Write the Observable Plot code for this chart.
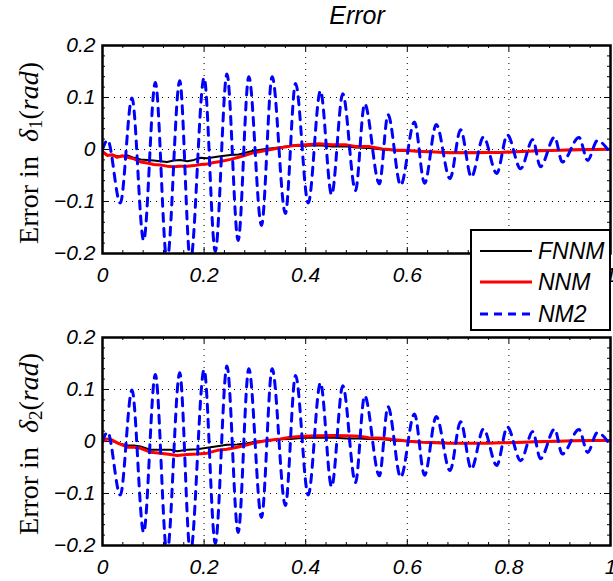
<!DOCTYPE html>
<html>
<head>
<meta charset="utf-8">
<script src="https://cdn.jsdelivr.net/npm/d3@7"></script>
<script src="https://cdn.jsdelivr.net/npm/@observablehq/plot@0.6"></script>
<style>
  html, body { margin: 0; padding: 0; background: #fff; }
  #chart { position: relative; width: 613px; height: 581px; overflow: hidden; background: #fff; }
  #chart > svg { position: absolute; left: 0; background: transparent; }
  .title { position: absolute; top: 3px; left: 357px; transform: translateX(-50%); font: italic 25px "Liberation Sans", Arial, sans-serif; line-height: 25px; white-space: nowrap; }
  .ylab { position: absolute; transform: translate(-50%, -50%) rotate(-90deg); font-family: "Liberation Serif", "Times New Roman", serif; font-size: 28px; white-space: nowrap; line-height: 1; }
  .ylab i { font-style: italic; }
  .ylab sub { font-size: 0.68em; vertical-align: -0.25em; font-style: normal; }
  .legend { position: absolute; left: 470px; top: 229px; width: 137px; height: 98px; border: 2px solid #000; background: #fff; z-index: 10; }
  .legend .row { position: absolute; left: 0; height: 30px; display: flex; align-items: center; font: italic 23px "Liberation Sans", Arial, sans-serif; white-space: nowrap; }
  .legend .row svg { display: block; margin-left: 8px; margin-right: 6px; flex: none; }
</style>
</head>
<body>
<div id="chart"></div>
<script>
// ---- axis definitions ----
const xTicks = [0, 0.2, 0.4, 0.6, 0.8, 1];
const xTickLabels = ["0", "0.2", "0.4", "0.6", "0.8", "1"];
const yTicks = [-0.2, -0.1, 0, 0.1, 0.2];
const yTickLabels = ["\u22120.2", "\u22120.1", "0", "0.1", "0.2"];
const xMinor = [0.04, 0.08, 0.12, 0.16, 0.24, 0.28, 0.32, 0.36, 0.44, 0.48, 0.52, 0.56, 0.64, 0.68, 0.72, 0.76, 0.84, 0.88, 0.92, 0.96];
const yMinor = [-0.18, -0.16, -0.14, -0.12, -0.08, -0.06, -0.04, -0.02, 0.02, 0.04, 0.06, 0.08, 0.12, 0.14, 0.16, 0.18];

const seriesNames = ["FNNM", "NNM", "NM2"];
const seriesColors = ["#000000", "#ff0000", "#0000ff"];

// ---- NM2 (blue dashed) : turning points, same in both panels ----
const nm2 = [
  [0, 0.0], [0.010, 0.018], [0.035, -0.103], [0.058, 0.099], [0.081, -0.175], [0.104, 0.129],
  [0.127, -0.215], [0.152, 0.132], [0.173, -0.215], [0.200, 0.138], [0.222, -0.196], [0.245, 0.145],
  [0.267, -0.175], [0.288, 0.140], [0.313, -0.146], [0.334, 0.140], [0.360, -0.123], [0.380, 0.127],
  [0.405, -0.103], [0.429, 0.113], [0.451, -0.087], [0.473, 0.107], [0.498, -0.079], [0.516, 0.088],
  [0.545, -0.066], [0.562, 0.067], [0.587, -0.069], [0.614, 0.053], [0.634, -0.065], [0.657, 0.048],
  [0.684, -0.056], [0.705, 0.038], [0.726, -0.053], [0.750, 0.024], [0.776, -0.046], [0.797, 0.028],
  [0.823, -0.037], [0.847, 0.019], [0.862, -0.033], [0.890, 0.024], [0.905, -0.024], [0.938, 0.023],
  [0.955, -0.021], [0.974, 0.017], [1.0, -0.008]
];

// ---- panel 1 (delta_1) ----
const fnnm1 = [
  [0, -0.004], [0.009, -0.010], [0.022, -0.0115], [0.035, -0.0135], [0.049, -0.0115], [0.062, -0.016],
  [0.075, -0.019], [0.088, -0.020], [0.101, -0.021], [0.114, -0.0225], [0.127, -0.024], [0.140, -0.021],
  [0.153, -0.020], [0.167, -0.0225], [0.180, -0.020], [0.193, -0.016], [0.206, -0.017], [0.219, -0.015],
  [0.232, -0.013], [0.252, -0.0105], [0.268, -0.0096], [0.295, -0.003], [0.321, 0.001], [0.347, 0.004],
  [0.373, 0.007], [0.400, 0.007], [0.426, 0.008], [0.452, 0.006], [0.478, 0.006], [0.498, 0.004],
  [0.524, 0.003], [0.551, 0.0], [0.577, -0.002], [0.603, -0.003], [0.629, -0.004], [0.656, -0.005],
  [0.682, -0.006], [0.708, -0.006], [0.734, -0.006], [0.760, -0.005], [0.783, -0.005], [0.823, -0.004],
  [0.862, -0.002], [0.902, -0.001], [0.941, 0.0], [1.0, 0.001]
];
const nnm1 = [
  [0, -0.004], [0.009, -0.0115], [0.019, -0.010], [0.029, -0.015], [0.039, -0.012], [0.049, -0.015],
  [0.062, -0.018], [0.075, -0.024], [0.088, -0.026], [0.101, -0.029], [0.114, -0.030], [0.127, -0.032],
  [0.140, -0.033], [0.153, -0.032], [0.167, -0.032], [0.180, -0.031], [0.193, -0.029], [0.206, -0.028],
  [0.219, -0.025], [0.232, -0.023], [0.252, -0.019], [0.268, -0.015], [0.295, -0.007], [0.321, -0.002],
  [0.347, 0.003], [0.373, 0.007], [0.400, 0.009], [0.426, 0.011], [0.452, 0.009], [0.478, 0.009],
  [0.498, 0.006], [0.524, 0.006], [0.551, 0.001], [0.577, -0.001], [0.603, -0.002], [0.629, -0.004],
  [0.656, -0.005], [0.682, -0.0064], [0.708, -0.0064], [0.734, -0.0064], [0.754, -0.006], [0.783, -0.006],
  [0.823, -0.004], [0.862, -0.0026], [0.902, -0.0013], [0.941, -0.0006], [1.0, 0.0006]
];

// ---- panel 2 (delta_2) ----
const fnnm2 = [
  [0, 0.002], [0.009, 0.005], [0.022, 0.0], [0.035, -0.0045], [0.049, -0.0077], [0.062, -0.0077],
  [0.075, -0.0096], [0.094, -0.016], [0.114, -0.016], [0.134, -0.016], [0.147, -0.0186], [0.167, -0.016],
  [0.186, -0.015], [0.206, -0.0122], [0.226, -0.009], [0.245, -0.0064], [0.265, -0.0058], [0.285, -0.0032],
  [0.305, 0.0], [0.324, 0.002], [0.350, 0.0045], [0.370, 0.005], [0.396, 0.0071], [0.423, 0.0071],
  [0.455, 0.0071], [0.482, 0.0058], [0.505, 0.0058], [0.524, 0.005], [0.551, 0.0045], [0.577, 0.002],
  [0.603, 0.0006], [0.629, -0.001], [0.656, -0.002], [0.682, -0.003], [0.708, -0.003], [0.734, -0.003],
  [0.760, -0.003], [0.787, -0.0026], [0.813, -0.002], [0.852, -0.0006], [0.892, 0.0006], [0.931, 0.0013],
  [0.970, 0.0019], [1.0, 0.0019]
];
const nnm2 = [
  [0, 0.0], [0.009, 0.005], [0.019, 0.003], [0.029, -0.0026], [0.049, -0.011], [0.062, -0.011],
  [0.075, -0.013], [0.094, -0.0205], [0.114, -0.0224], [0.134, -0.025], [0.147, -0.027], [0.167, -0.025],
  [0.186, -0.024], [0.206, -0.0224], [0.226, -0.017], [0.245, -0.015], [0.265, -0.011], [0.285, -0.0064],
  [0.305, -0.0013], [0.324, 0.002], [0.350, 0.005], [0.370, 0.008], [0.396, 0.0103], [0.423, 0.011],
  [0.455, 0.0115], [0.482, 0.011], [0.505, 0.0103], [0.524, 0.0071], [0.551, 0.0064], [0.577, 0.0032],
  [0.603, 0.0006], [0.629, -0.0013], [0.656, -0.0026], [0.682, -0.0032], [0.708, -0.0032], [0.734, -0.0032],
  [0.760, -0.0032], [0.787, -0.0026], [0.813, -0.002], [0.852, -0.0006], [0.892, 0.0006], [0.931, 0.0013],
  [0.970, 0.0019], [1.0, 0.0019]
];

// ---- layout ----
const W = 613, ML = 102, MR = 3;
const innerW = W - ML - MR, innerH = 208;

function panel(black, red, blue, marginTop, marginBottom) {
  const grid = {stroke: "#000", strokeWidth: 1, strokeDasharray: "1,5"};
  const tk = {stroke: "#000", strokeWidth: 1};
  return Plot.plot({
    width: W,
    height: marginTop + innerH + marginBottom,
    marginTop, marginBottom, marginLeft: ML, marginRight: MR,
    style: {fontFamily: "'Liberation Sans', Arial, sans-serif", fontSize: "21px", fontStyle: "italic", background: "transparent", overflow: "visible", color: "#000"},
    x: {domain: [0, 1], ticks: xTicks, tickFormat: d => xTickLabels[xTicks.indexOf(d)], tickSize: 0, tickPadding: 14, label: null},
    y: {domain: [-0.2, 0.2], ticks: yTicks, tickFormat: d => yTickLabels[yTicks.indexOf(d)], tickSize: 0, tickPadding: 7, label: null},
    marks: [
      Plot.ruleX(xTicks, grid),
      Plot.ruleY(yTicks, grid),
      Plot.ruleX(xMinor, {...tk, insetTop: innerH - 3}),
      Plot.ruleX(xMinor, {...tk, insetBottom: innerH - 3}),
      Plot.ruleY(yMinor, {...tk, insetRight: innerW - 3}),
      Plot.ruleY(yMinor, {...tk, insetLeft: innerW - 3}),
      Plot.ruleX(xTicks, {...tk, insetTop: innerH - 6}),
      Plot.ruleX(xTicks, {...tk, insetBottom: innerH - 6}),
      Plot.ruleY(yTicks, {...tk, insetRight: innerW - 6}),
      Plot.ruleY(yTicks, {...tk, insetLeft: innerW - 6}),
      Plot.line(black, {stroke: seriesColors[0], strokeWidth: 2, clip: true}),
      Plot.line(red, {stroke: seriesColors[1], strokeWidth: 3, clip: true}),
      Plot.line(blue, {stroke: seriesColors[2], strokeWidth: 3, strokeDasharray: "8,7", curve: "monotone-x", clip: true}),
      Plot.frame({stroke: "#000", strokeWidth: 2.5})
    ]
  });
}

const chart = document.getElementById("chart");

const p1 = panel(fnnm1, nnm1, nm2, 15, 37);
p1.style.top = "30px";
chart.appendChild(p1);

const p2 = panel(fnnm2, nnm2, nm2, 37, 36);
p2.style.top = "300px";
chart.appendChild(p2);

// title
const title = document.createElement("div");
title.className = "title";
title.textContent = "Error";
chart.appendChild(title);

// y labels
function ylab(idx, cy) {
  const d = document.createElement("div");
  d.className = "ylab";
  d.style.left = "30px";
  d.style.top = cy + "px";
  d.innerHTML = "Error in&nbsp; <i>\u03B4</i><sub>" + idx + "</sub>(<i>rad</i>)";
  chart.appendChild(d);
}
ylab(1, 153);
ylab(2, 444);

// legend
const legend = document.createElement("div");
legend.className = "legend";
const rowTops = [5, 36, 68];
seriesNames.forEach((name, i) => {
  const row = document.createElement("div");
  row.className = "row";
  row.style.top = rowTops[i] + "px";
  const dash = i === 2 ? ' stroke-dasharray="8,6"' : "";
  const sw = i === 0 ? 2 : 3;
  row.innerHTML = '<svg width="52" height="6"><line x1="0" y1="3" x2="52" y2="3" stroke="' + seriesColors[i] + '" stroke-width="' + sw + '"' + dash + '/></svg><span>' + name + '</span>';
  legend.appendChild(row);
});
chart.appendChild(legend);
</script>
</body>
</html>
